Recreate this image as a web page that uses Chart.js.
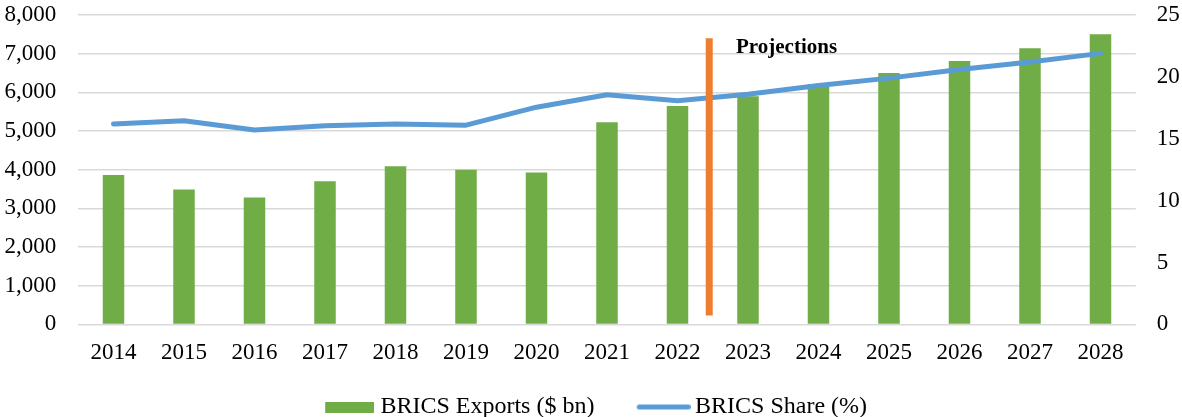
<!DOCTYPE html>
<html>
<head>
<meta charset="utf-8">
<script src="https://cdn.jsdelivr.net/npm/chart.js@4.4.0/dist/chart.umd.min.js"></script>
<style>
  body { margin: 0; background: #fff; }
</style>
</head>
<body>
<canvas id="brics" width="1182" height="417"></canvas>
<script>

var years = ['2014', '2015', '2016', '2017', '2018', '2019', '2020', '2021',
             '2022', '2023', '2024', '2025', '2026', '2027', '2028'];
var exportsBn = [3860, 3490, 3280, 3700, 4090, 4000, 3930, 5225,
                 5650, 5900, 6210, 6500, 6810, 7140, 7500];
var sharePct = [16.2, 16.45, 15.7, 16.05, 16.2, 16.1, 17.55, 18.55,
                18.08, 18.6, 19.3, 19.9, 20.6, 21.2, 21.9];

// vertical marker between 2022 and 2023 (category index, exports axis values)
var projectionAt = 8.45;
var projectionRange = [230, 7400];
var projectionText = 'Projections';
var projectionTextAt = [8.83, 7030];

var legendBox = 60.6;
// legend sits a bit left of centre: widen the left side, give it back on the y axis
var legendShift = 9.4;

function makeLegendIcon(kind) {

  var c = document.createElement('canvas');
  var g;
  if (kind == 'bar') {
    c.width = legendBox + 12;
    c.height = 11;
    g = c.getContext('2d');
    g.fillStyle = '#70AD47';
    g.fillRect(c.width - 49, 0, 49, 11);
  } else {
    c.width = legendBox + 16;
    c.height = 7;
    g = c.getContext('2d');
    g.strokeStyle = '#5B9BD5';
    g.lineWidth = 5;
    g.lineCap = 'round';
    g.beginPath();
    g.moveTo(c.width - 54 + 2.5, 3.5);
    g.lineTo(c.width - 2.5, 3.5);
    g.stroke();
  }
  return c;
}

// the scales count their tick padding twice when drawTicks is off
function trimAxis(scale) {

  scale.width = scale.width - scale.options.ticks.padding;
  if (scale.id == 'y') {
    scale.width = scale.width + legendShift;
  }
  scale.paddingTop = 0;
  scale.paddingBottom = 0;
}

var projectionPlugin = {
  id: 'projection',
  afterDatasetsDraw: function(chart) {

    var ctx = chart.ctx;
    var x = chart.scales.x.getPixelForValue(projectionAt);
    var y1 = chart.scales.y.getPixelForValue(projectionRange[0]);
    var y2 = chart.scales.y.getPixelForValue(projectionRange[1]);

    ctx.save();
    ctx.strokeStyle = '#ED7D31';
    ctx.lineWidth = 7;
    ctx.beginPath();
    ctx.moveTo(x, y1);
    ctx.lineTo(x, y2);
    ctx.stroke();

    ctx.fillStyle = '#000';
    ctx.font = "bold 21px 'Liberation Serif', 'Times New Roman', serif";
    ctx.textAlign = 'left';
    ctx.textBaseline = 'alphabetic';
    ctx.fillText(projectionText,
      chart.scales.x.getPixelForValue(projectionTextAt[0]),
      chart.scales.y.getPixelForValue(projectionTextAt[1]));
    ctx.restore();
  }
};

function printChart() {

  var icons = [makeLegendIcon('bar'), makeLegendIcon('line')];

  Chart.defaults.font.family = "'Liberation Serif', 'Times New Roman', serif";
  Chart.defaults.font.size = 23;
  Chart.defaults.color = '#000';

  var ctx = document.getElementById('brics').getContext('2d');
  new Chart(ctx, {
    type: 'bar',
    data: {
      labels: years,
      datasets: [{
        type: 'bar',
        label: 'BRICS Exports ($ bn)',
        data: exportsBn,
        backgroundColor: '#70AD47',
        barPercentage: 0.305,
        categoryPercentage: 1,
        yAxisID: 'y',
        order: 2
      }, {
        type: 'line',
        label: 'BRICS Share (%)',
        data: sharePct,
        borderColor: '#5B9BD5',
        backgroundColor: '#5B9BD5',
        borderWidth: 5,
        borderCapStyle: 'round',
        borderJoinStyle: 'round',
        pointRadius: 0,
        tension: 0,
        yAxisID: 'y2',
        order: 1
      }]
    },
    options: {
      responsive: false,
      animation: false,
      layout: {
        padding: { left: 4.5 - legendShift, right: 2.25, top: 15, bottom: -12 }
      },
      plugins: {
        tooltip: { enabled: false },
        legend: {
          position: 'bottom',
          labels: {
            usePointStyle: true,
            pointStyleWidth: legendBox,
            padding: 28,
            color: '#000',
            font: { size: 24 },
            sort: function(a, b) { return a.datasetIndex - b.datasetIndex; },
            generateLabels: function(chart) {
              var items = Chart.defaults.plugins.legend.labels.generateLabels(chart);
              items.forEach(function(item) {
                item.pointStyle = icons[item.datasetIndex];
              });
              return items;
            }
          }
        }
      },
      scales: {
        x: {
          grid: { display: false, drawTicks: false },
          border: { display: false },
          ticks: { padding: 15 },
          afterFit: function(scale) { scale.height = scale.height - 15; }
        },
        y: {
          position: 'left',
          min: 0,
          max: 8000,
          grid: { color: '#D9D9D9', lineWidth: 1.5, drawTicks: false },
          border: { display: false },
          ticks: {
            stepSize: 1000,
            padding: 22,
            callback: function(v) { return v.toLocaleString('en-US'); }
          },
          afterFit: trimAxis
        },
        y2: {
          position: 'right',
          min: 0,
          max: 25,
          grid: { display: false, drawOnChartArea: false, drawTicks: false },
          border: { display: false },
          ticks: { stepSize: 5, padding: 21 },
          afterFit: trimAxis
        }
      }
    },
    plugins: [projectionPlugin]
  });
}

printChart();
</script>
</body>
</html>
